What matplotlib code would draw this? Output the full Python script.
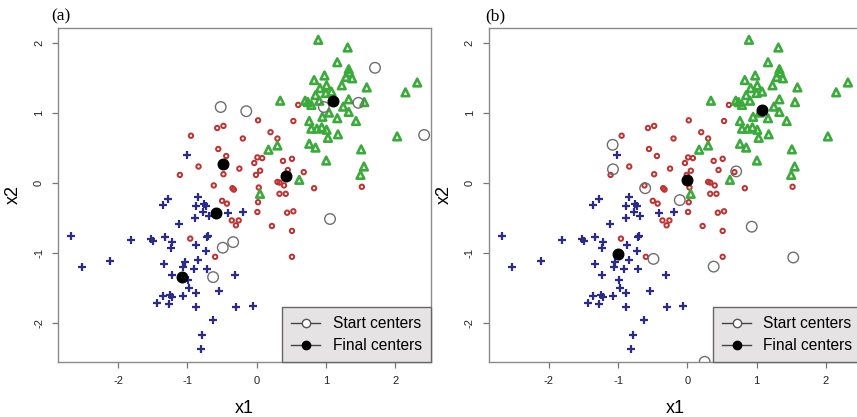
import matplotlib.pyplot as plt
from matplotlib.lines import Line2D

plt.rcParams['font.family'] = ['Liberation Sans', 'DejaVu Sans']
plt.rcParams['axes.unicode_minus'] = False

# cluster points (same in both panels)
green_x = [0.89, 1.315, 1.165, 1.33, 1.34, 1.29, 1.38, 0.83, 0.98, 1.01, 0.915, 1.23, 1.59,
           1.08, 1.00, 0.85, 2.15, 2.32, 0.34, 0.70, 0.74, 0.79, 0.905, 1.33, 1.555, 1.25,
           1.045, 1.33, 0.95, 1.165, 1.435, 0.76, 0.79, 0.87, 0.94, 1.01, 1.03, 1.175, 2.03,
           0.76, 0.85, 1.51, 0.30, 0.17, 1.005, 1.55, 1.50, 0.615, 0.048]
green_y = [2.05, 1.94, 1.73, 1.63, 1.585, 1.52, 1.50, 1.475, 1.54, 1.40, 1.36, 1.40, 1.37,
           1.31, 1.29, 1.26, 1.30, 1.44, 1.18, 1.18, 1.16, 1.12, 1.18, 1.20, 1.16, 1.095,
           1.01, 1.02, 0.95, 0.93, 0.89, 0.89, 0.78, 0.78, 0.80, 0.765, 0.65, 0.70, 0.67,
           0.565, 0.51, 0.485, 0.54, 0.48, 0.325, 0.24, 0.12, 0.05, -0.15]

red_x = [0.60, 0.02, 0.53, -0.57, -0.48, -0.95, 0.20, -0.20, 0.30, -0.555, -0.44, 0.01, 0.08,
         -0.035, 0.38, 0.51, -0.84, -0.25, 0.05, -0.01, 0.45, 0.68, -1.11, -0.48, -0.62,
         -0.35, -0.33, 0.30, 0.33, 0.395, 0.03, 0.83, 0.33, 0.42, -0.50, -0.43, 0.02, 0.01,
         0.44, 0.53, -0.36, -0.26, -0.30, 0.22, 0.51, -0.96, -0.60, 0.51, 1.52]
red_y = [1.12, 0.90, 0.89, 0.79, 0.82, 0.68, 0.73, 0.64, 0.64, 0.49, 0.39, 0.37, 0.36,
         0.29, 0.32, 0.35, 0.24, 0.21, 0.18, 0.12, 0.19, 0.16, 0.12, 0.13, -0.03,
         -0.07, -0.09, 0.02, 0.01, -0.03, -0.06, -0.07, -0.15, -0.15, -0.25, -0.29, -0.27, -0.41,
         -0.42, -0.40, -0.53, -0.53, -0.60, -0.61, -0.68, -0.79, -1.05, -1.05, -0.05]

blue_x = [-0.85, -1.28, -1.36, -0.88, -0.76, -0.73, -0.77, -0.69, -0.415, -0.89, -1.12, -2.68,
          -1.81, -1.53, -1.50, -1.33, -1.22, -1.24, -0.70, -0.72, -0.87, -0.73, -2.53, -2.12,
          -1.34, -1.04, -1.06, -0.85, -0.91, -0.72, -1.23, -0.31, -0.99, -0.98, -0.88, -0.54,
          -1.36, -1.25, -1.22, -1.07, -1.44, -1.27, -0.88, -0.30, -0.63, -0.79, -0.81, -1.01,
          -0.20, -0.06]
blue_y = [-0.20, -0.22, -0.31, -0.32, -0.30, -0.32, -0.41, -0.47, -0.42, -0.50, -0.58, -0.75,
          -0.81, -0.80, -0.82, -0.76, -0.84, -0.92, -0.75, -0.76, -0.88, -0.97, -1.19, -1.11,
          -1.15, -1.13, -1.19, -1.09, -1.22, -1.23, -1.31, -1.31, -1.38, -1.49, -1.56, -1.54,
          -1.61, -1.60, -1.62, -1.61, -1.71, -1.73, -1.76, -1.77, -1.95, -2.16, -2.37, 0.40,
          -0.41, -1.75]

# centers
start_a_x = [-0.52, -0.15, 1.71, 0.97, 1.47, 2.42, 1.06, -0.49, -0.34, -0.63]
start_a_y = [1.09, 1.03, 1.65, 1.09, 1.15, 0.69, -0.51, -0.92, -0.84, -1.34]
final_a_x = [-0.49, 0.43, 1.11, -0.59, -1.08]
final_a_y = [0.28, 0.10, 1.18, -0.43, -1.34]

start_b_x = [-1.08, -1.075, -0.61, -0.11, 0.705, 0.93, 1.53, 0.38, -0.49, 0.25]
start_b_y = [0.55, 0.20, -0.07, -0.24, 0.17, -0.62, -1.06, -1.19, -1.08, -2.55]
final_b_x = [1.08, 0.00, -1.00]
final_b_y = [1.05, 0.05, -1.01]

W, H = 857, 417
fig = plt.figure(figsize=(W / 100, H / 100), dpi=100)
bottom = 1 - 362.3 / H
height = (362.3 - 27.7) / H
width = 373 / W
ax1 = fig.add_axes([58 / W, bottom, width, height])
ax2 = fig.add_axes([488.7 / W, bottom, width, height])

panels = [(ax1, start_a_x, start_a_y, final_a_x, final_a_y),
          (ax2, start_b_x, start_b_y, final_b_x, final_b_y)]

for ax, sx, sy, fx, fy in panels:
    ax.scatter(blue_x, blue_y, marker='+', s=40, c='#2b2b8c', linewidths=1.6, zorder=3)
    ax.scatter(red_x, red_y, marker='o', s=10, facecolors='none', edgecolors='#c0302f',
               linewidths=1.4, zorder=3)
    ax.scatter(green_x, green_y, marker='^', s=30, facecolors='none', edgecolors='#3aaa3a',
               linewidths=1.9, zorder=3)
    ax.scatter(sx, sy, marker='o', s=58, facecolors='none', edgecolors='#6e6e6e',
               linewidths=1.0, zorder=4)
    ax.scatter(fx, fy, marker='o', s=58, c='black', zorder=5)

    ax.set_xlim(-2.871, 2.519)
    ax.set_ylim(-2.557, 2.223)
    ax.set_xticks([-2, -1, 0, 1, 2])
    ax.set_yticks([-2, -1, 0, 1, 2])
    ax.tick_params(colors='#777777', labelcolor='#222222', labelsize=8, length=4,
                   width=0.9, pad=6)
    for lab in ax.get_yticklabels():
        lab.set_rotation(90)
        lab.set_va('center')
    for sp in ax.spines.values():
        sp.set_color('#8a8a8a')
        sp.set_linewidth(1.0)
    ax.set_xlabel('x1', fontsize=13, labelpad=10)
    ax.set_ylabel('x2', fontsize=13, labelpad=9)

    # legend in R style: line + point symbol
    handles = [Line2D([0], [0], color='#444444', lw=1, marker='o', markersize=6,
                      markerfacecolor='white', markeredgecolor='#555555'),
               Line2D([0], [0], color='#444444', lw=1, marker='o', markersize=6,
                      markerfacecolor='black', markeredgecolor='black')]
    leg = ax.legend(handles, ['Start centers', 'Final centers'], loc='lower right',
                    bbox_to_anchor=(1.0, 0.0), borderaxespad=0, fontsize=11.2,
                    handlelength=1.85, handletextpad=0.8, labelspacing=0.45,
                    borderpad=0.6, fancybox=False, framealpha=1)
    leg.get_frame().set_facecolor('#e5e3e3')
    leg.get_frame().set_edgecolor('#666666')
    leg.get_frame().set_linewidth(1.0)
    leg.set_zorder(10)

fig.text(51.7 / W, 1 - 16 / H, '(a)', family=['Liberation Serif', 'DejaVu Serif'],
         fontsize=12.5, va='center', ha='left')
fig.text(485 / W, 1 - 16 / H, '(b)', family=['Liberation Serif', 'DejaVu Serif'],
         fontsize=12.5, va='center', ha='left')

fig.savefig('out.png', dpi=100)
